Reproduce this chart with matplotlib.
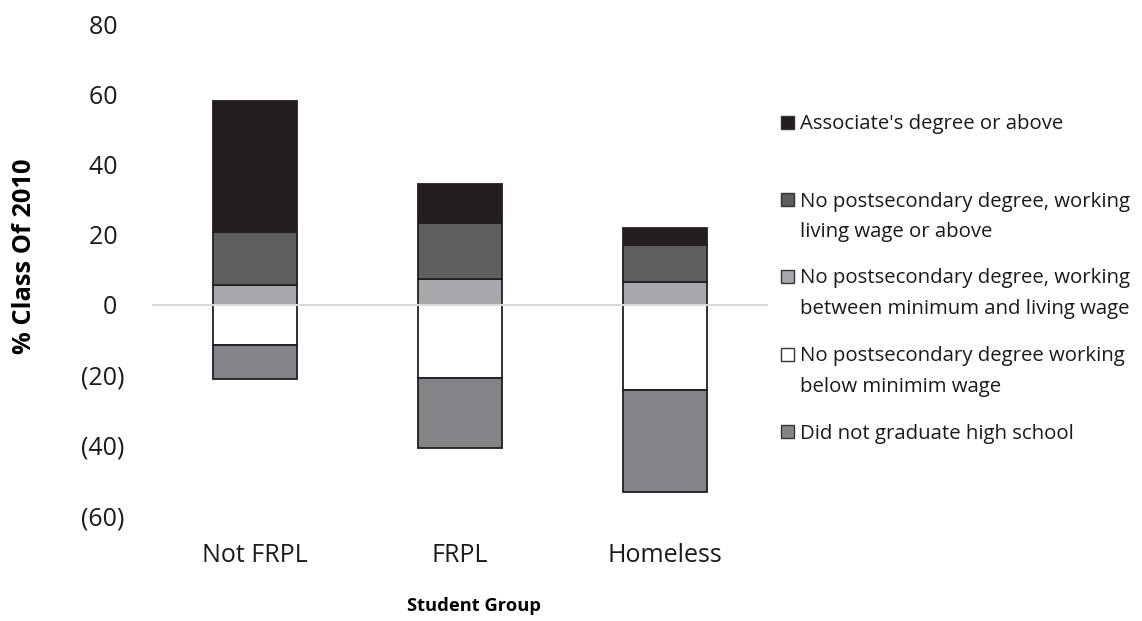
import matplotlib
matplotlib.use("Agg")
import matplotlib.pyplot as plt
from matplotlib.patches import Rectangle
import numpy as np

plt.rcParams['font.family'] = ['Open Sans', 'DejaVu Sans']

groups = ["Not FRPL", "FRPL", "Homeless"]

# Positive segments (stacked upward from zero)
between_min_living = [5.6, 7.4, 6.6]
living_wage_or_above = [15.3, 15.9, 10.5]
associates_or_above = [37.3, 11.2, 4.9]

# Negative segments (stacked downward from zero)
below_minimum = [-11.4, -20.7, -24.2]
no_hs_diploma = [-9.7, -20.0, -29.2]

yticks = [-60, -40, -20, 0, 20, 40, 60, 80]
ytick_labels = ["(60)", "(40)", "(20)", "0 ", "20 ", "40 ", "60 ", "80 "]

series_labels = [
    ["Associate's degree or above"],
    ["No postsecondary degree, working", "living wage or above"],
    ["No postsecondary degree, working", "between minimum and living wage"],
    ["No postsecondary degree working", "below minimim wage"],
    ["Did not graduate high school"],
]
c_assoc = "#231f20"
c_living = "#5e5e60"
c_between = "#a7a8ab"
c_below = "#ffffff"
c_nohs = "#838487"
edge = "#231f20"
text_color = "#1a1a1a"

W, H = 1142, 621
fig = plt.figure(figsize=(W / 100, H / 100), dpi=100)
ax = fig.add_axes([152 / W, 1 - 515.6 / H, (768 - 152) / W, (515.6 - 24.2) / H])

x = np.arange(len(groups))
w = 0.41
kw = dict(width=w, edgecolor=edge, linewidth=1.3, zorder=3)

pos1 = np.array(between_min_living)
pos2 = np.array(living_wage_or_above)
pos3 = np.array(associates_or_above)
neg1 = np.array(below_minimum)
neg2 = np.array(no_hs_diploma)

ax.bar(x, pos1, color=c_between, **kw)
ax.bar(x, pos2, bottom=pos1, color=c_living, **kw)
ax.bar(x, pos3, bottom=pos1 + pos2, color=c_assoc, **kw)
ax.bar(x, neg1, color=c_below, **kw)
ax.bar(x, neg2, bottom=neg1, color=c_nohs, **kw)

ax.axhline(0, color="#d9d9d9", linewidth=1.5, zorder=4)

ax.set_xlim(-0.5, 2.5)
ax.set_ylim(-60, 80)
ax.set_yticks(yticks)
ax.set_yticklabels(ytick_labels, fontsize=18, color=text_color)
ax.set_xticks(x)
ax.set_xticklabels(groups, fontsize=18, color=text_color)
ax.tick_params(axis="y", length=0, pad=20)
ax.tick_params(axis="x", length=0, pad=20)
for s in ax.spines.values():
    s.set_visible(False)

fig.text(25 / W, 1 - 256 / H, "% Class Of 2010", fontsize=18.3, fontweight="bold",
         rotation=90, ha="center", va="center", color="black")
fig.text(474 / W, 1 - 606 / H, "Student Group", fontsize=13.2, fontweight="bold",
         ha="center", va="center", color="black")

# Legend drawn as a column of swatches with wrapped labels
colors = [c_assoc, c_living, c_between, c_below, c_nohs]
legend_rows = [122, 199, 276, 354, 431]
line_gap = 30.5
for lines, col, yc in zip(series_labels, colors, legend_rows):
    fig.patches.append(Rectangle((781 / W, 1 - (yc + 6.5) / H), 13 / W, 13 / H,
                                 transform=fig.transFigure, facecolor=col,
                                 edgecolor="#333333", linewidth=1.0))
    for i, line in enumerate(lines):
        fig.text(800 / W, 1 - (yc + i * line_gap) / H, line, fontsize=14.7,
                 color=text_color, ha="left", va="center_baseline")

fig.savefig("out.png", dpi=100)
